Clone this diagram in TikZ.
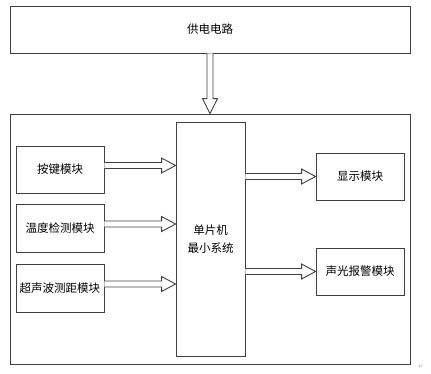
\documentclass[tikz,border=0pt]{standalone}
\usepackage{fontspec}
\newfontfamily\cjk{Noto Sans CJK SC}
\newfontfamily\symb{DejaVu Sans}
\usetikzlibrary{calc}
% hollow block arrows, pointing right / down
\newcommand\fatarrowh[2]{\draw[fat] ($(#1)+(0,3)$) -- ($(#2)+(-14,3)$) -- ($(#2)+(-14,7.5)$) -- (#2) -- ($(#2)+(-14,-7.5)$) -- ($(#2)+(-14,-3)$) -- ($(#1)+(0,-3)$);}
\newcommand\fatarrowv[2]{\draw[fat] ($(#1)+(-3,0)$) -- ($(#2)+(-3,15)$) -- ($(#2)+(-7.5,15)$) -- (#2) -- ($(#2)+(7.5,15)$) -- ($(#2)+(3,15)$) -- ($(#1)+(3,0)$);}
\begin{document}
\begin{tikzpicture}[x=1pt, y=1pt, font=\cjk\fontsize{11.5}{18}\selectfont, line join=miter,
  box/.style={draw=black!75, line width=0.9pt, inner sep=0pt, align=center},
  fat/.style={draw=black!75, line width=0.9pt, fill=white}]
\useasboundingbox (0,0) rectangle (431,-373);
\node[box, minimum width=400, minimum height=47] (power) at (210,-29.5) {供电电路};
\node[box, minimum width=400, minimum height=250] (sys) at (210,-239) {};
\node[box, minimum width=69, minimum height=234] (mcu) at (210.5,-239) {单片机\\最小系统};
\node[box, minimum width=88, minimum height=47] (key) at (60,-169.5) {按键模块};
\node[box, minimum width=88, minimum height=48] (temp) at (60,-228) {温度检测模块};
\node[box, minimum width=88, minimum height=48] (dist) at (60,-288) {超声波测距模块};
\node[box, minimum width=88, minimum height=47] (disp) at (360,-176.5) {显示模块};
\node[box, minimum width=88, minimum height=47] (alarm) at (360,-271.5) {声光报警模块};
\fatarrowv{power.south}{sys.north}
\foreach \m in {key,temp,dist} {
  \coordinate (\m-out) at ([yshift=4pt]\m.east);
  \coordinate (\m-in) at (mcu.west |- \m-out);
  \fatarrowh{\m-out}{\m-in}
}
\foreach \m in {disp,alarm} {
  \coordinate (\m-in) at (\m.west);
  \coordinate (\m-out) at (mcu.east |- \m-in);
  \fatarrowh{\m-out}{\m-in}
}
\node[font=\symb\fontsize{6}{6}\selectfont, text=black!35, inner sep=0pt] (mark) at (421,-367) {↵};
\end{tikzpicture}
\end{document}
